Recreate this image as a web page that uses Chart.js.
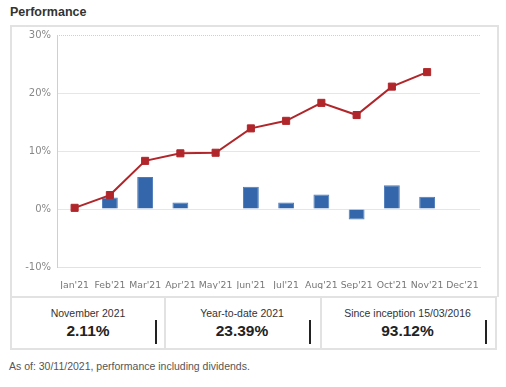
<!DOCTYPE html>
<html>
<head>
<meta charset="utf-8">
<script src="https://cdn.jsdelivr.net/npm/chart.js@4"></script>
<style>
  html, body { margin: 0; padding: 0; background: #fff; }
  body { width: 506px; height: 387px; position: relative; overflow: hidden; font-family: "Liberation Sans", Arial, sans-serif; }
  #title { position: absolute; left: 10px; top: 5px; font-size: 12.5px; font-weight: bold; color: #333; }
  #box { position: absolute; left: 10px; top: 25px; width: 485px; height: 270px; border: 2px solid #e2e2e2; border-bottom: none; box-sizing: content-box; }
  #cv { position: absolute; left: 0; top: 0; }
  .cell { position: absolute; top: 296px; height: 54px; border: 2px solid #e2e2e2; box-sizing: border-box; text-align: center; color: #333; }
  .lab { position: absolute; left: 0; right: 0; top: 9px; font-size: 10.5px; }
  .val { position: absolute; left: 0; right: 0; top: 24px; font-size: 15.5px; font-weight: bold; color: #222; }
  .bar { position: absolute; top: 22px; width: 1.5px; height: 24px; background: #222; }
  #foot { position: absolute; left: 9px; top: 360px; font-size: 10.5px; color: #555; }
</style>
</head>
<body>
<div id="title">Performance</div>
<div id="box"></div>
<canvas id="cv" width="506" height="296"></canvas>
<div class="cell" style="left:10px;width:156px;"><div class="lab">November 2021</div><div class="val">2.11%</div><div class="bar" style="left:143px"></div></div>
<div class="cell" style="left:164px;width:158px;border-left:none;"><div class="lab">Year-to-date 2021</div><div class="val">23.39%</div><div class="bar" style="left:145px"></div></div>
<div class="cell" style="left:320px;width:177px;border-left:none;"><div class="lab">Since inception 15/03/2016</div><div class="val">93.12%</div><div class="bar" style="left:165px"></div></div>
<div id="foot">As of: 30/11/2021, performance including dividends.</div>
<script>
const months = ["Jan'21","Feb'21","Mar'21","Apr'21","May'21","Jun'21","Jul'21","Aug'21","Sep'21","Oct'21","Nov'21","Dec'21"];
const monthlyReturn = [null, 2.0, 5.5, 1.1, 0, 3.85, 1.1, 2.5, -1.8, 4.1, 2.11, null];
const cumulativeReturn = [0.2, 2.4, 8.3, 9.6, 9.7, 13.9, 15.2, 18.3, 16.2, 21.1, 23.6, null];
const yMin = -10, yMax = 30, yStep = 10;

const topDotted = {
  id: 'topDotted',
  beforeDatasetsDraw(chart) {
    const y = chart.scales.y.getPixelForValue(yMax);
    const a = chart.chartArea;
    const c = chart.ctx;
    c.save();
    c.strokeStyle = '#d0d0d0';
    c.lineWidth = 1;
    c.setLineDash([1, 1]);
    c.beginPath();
    c.moveTo(a.left, Math.round(y) + 0.5);
    c.lineTo(a.right, Math.round(y) + 0.5);
    c.stroke();
    c.restore();
  }
};

new Chart(document.getElementById('cv'), {
  data: {
    labels: months,
    datasets: [
      {
        type: 'line',
        data: cumulativeReturn,
        borderColor: '#b0262a',
        backgroundColor: '#b0262a',
        borderWidth: 2,
        pointStyle: 'rect',
        pointRadius: 5,
        pointBorderWidth: 1,
        tension: 0,
        order: 0
      },
      {
        type: 'bar',
        data: monthlyReturn,
        backgroundColor: '#3366aa',
        borderColor: '#4d7cbb',
        borderWidth: 1,
        categoryPercentage: 0.9,
        barPercentage: 0.5,
        order: 1
      }
    ]
  },
  options: {
    responsive: false,
    animation: false,
    layout: { padding: { left: 10, right: 26, top: 35, bottom: 7 } },
    plugins: { legend: { display: false }, tooltip: { enabled: false } },
    scales: {
      x: {
        offset: true,
        grid: { display: false },
        border: { display: true, color: '#dde3ee', width: 1 },
        ticks: { color: '#777', font: { family: 'DejaVu Sans', size: 9.3 }, maxRotation: 0, autoSkip: false, padding: 5 },
        afterFit(s) { s.height = 22; }
      },
      y: {
        min: yMin, max: yMax,
        grid: { drawTicks: false, color: (ctx) => (ctx.tick && ctx.tick.value === yMax) ? 'rgba(0,0,0,0)' : '#e6e6e6' },
        border: { display: true, color: '#cfcfcf', width: 1 },
        ticks: { stepSize: yStep, color: '#888', font: { family: 'DejaVu Sans', size: 10 }, padding: 6, callback: (v) => v + '%' },
        afterFit(s) { s.width = 47; }
      }
    }
  },
  plugins: [topDotted]
});
</script>
</body>
</html>
